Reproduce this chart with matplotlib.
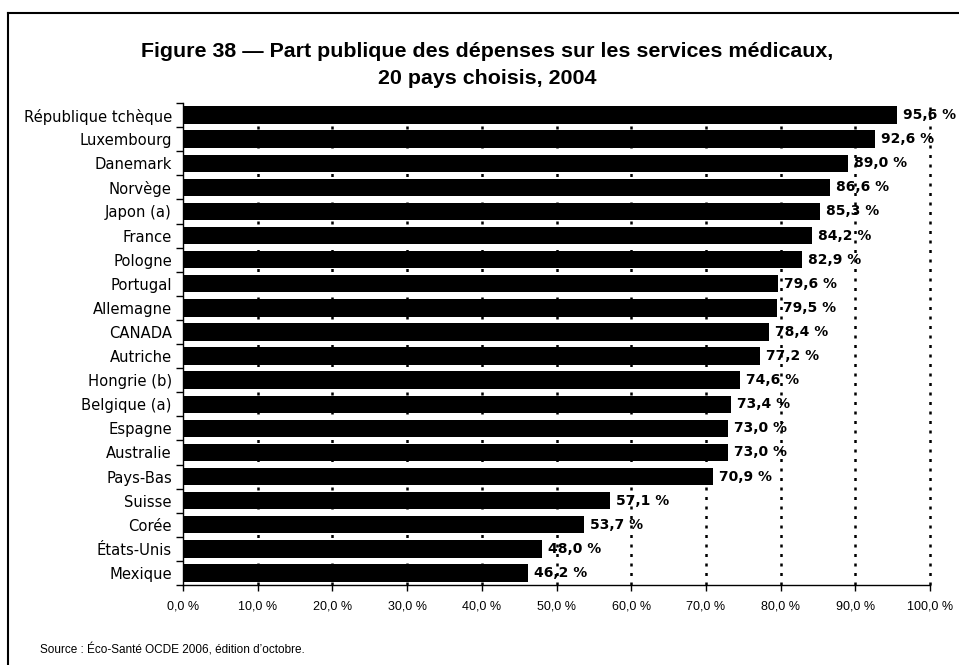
import matplotlib.pyplot as plt
import matplotlib.lines as mlines

plt.rcParams['font.family'] = ['Liberation Sans', 'DejaVu Sans']

pays = ['République tchèque', 'Luxembourg', 'Danemark', 'Norvège', 'Japon (a)',
        'France', 'Pologne', 'Portugal', 'Allemagne', 'CANADA', 'Autriche',
        'Hongrie (b)', 'Belgique (a)', 'Espagne', 'Australie', 'Pays-Bas',
        'Suisse', 'Corée', 'États-Unis', 'Mexique']
valeurs = [95.6, 92.6, 89.0, 86.6, 85.3, 84.2, 82.9, 79.6, 79.5, 78.4, 77.2,
           74.6, 73.4, 73.0, 73.0, 70.9, 57.1, 53.7, 48.0, 46.2]
graduations = list(range(0, 101, 10))

fig = plt.figure(figsize=(9.59, 6.65), dpi=100)
ax = fig.add_axes([0.1908, 0.1203, 0.7790, 0.7248])

pos = list(range(len(pays)))
ax.barh(pos, valeurs, height=0.72, color='black', zorder=2)
ax.set_ylim(len(pays) - 0.5, -0.5)
ax.set_xlim(0, 100)

# gridlines dotted
for g in graduations[1:]:
    ax.axvline(g, color='black', lw=1.8, ls=(0, (1.2, 2.6)), zorder=1, clip_on=False)

for p, v in zip(pos, valeurs):
    ax.text(v + 0.8, p, f"{v:.1f} %".replace('.', ','), va='center', ha='left',
            fontsize=10, fontweight='bold', family='DejaVu Sans', zorder=3)

ax.set_yticks([p + 0.5 for p in [-1] + pos])
ax.set_yticklabels([])
ax.set_yticks(pos, minor=True)
ax.set_yticklabels(pays, minor=True, fontsize=10.6, family='DejaVu Sans')
ax.tick_params(axis='y', which='minor', length=0, pad=8)
ax.tick_params(axis='y', which='major', length=5, width=1)

ax.set_xticks(graduations)
ax.set_xticklabels([f"{g:.1f} %".replace('.', ',') for g in graduations], fontsize=9)
ax.tick_params(axis='x', length=4, width=1, pad=7)

for s in ['top', 'right']:
    ax.spines[s].set_visible(False)
ax.spines['left'].set_linewidth(1)
ax.spines['bottom'].set_linewidth(1)

fig.text(0.508, 0.923, "Figure 38 — Part publique des dépenses sur les services médicaux,",
         ha='center', va='center', fontsize=15.4, fontweight='bold')
fig.text(0.508, 0.882, "20 pays choisis, 2004",
         ha='center', va='center', fontsize=15.4, fontweight='bold')
fig.text(0.042, 0.022, "Source : Éco-Santé OCDE 2006, édition d’octobre.",
         ha='left', va='center', fontsize=8.5)

# frame lines top and left
fig.add_artist(mlines.Line2D([0.0085, 1.0], [0.980, 0.980], color='black', lw=1.5,
                             transform=fig.transFigure))
fig.add_artist(mlines.Line2D([0.0085, 0.0085], [0.0, 0.980], color='black', lw=1.5,
                             transform=fig.transFigure))

fig.savefig('out.png', dpi=100)
